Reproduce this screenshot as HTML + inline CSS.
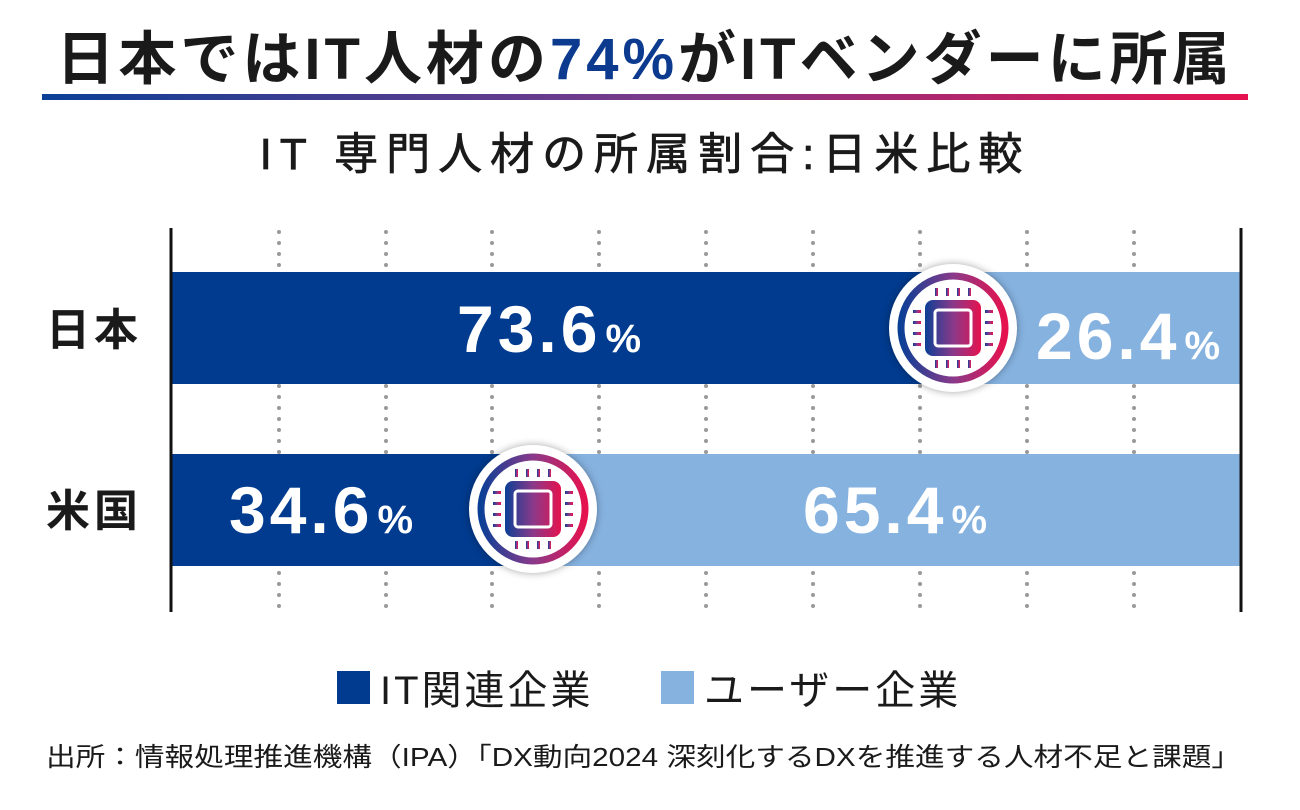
<!DOCTYPE html>
<html><head><meta charset="utf-8"><style>
body{margin:0;width:1300px;height:810px;background:#fff;overflow:hidden;font-family:"Liberation Sans","Noto Sans CJK JP",sans-serif;}
.a{position:absolute;white-space:nowrap}
</style></head><body>
<div class="a" style="left:0;width:1290px;top:25px;text-align:center;font-size:58px;font-weight:bold;color:#1a1a1a;letter-spacing:4px;line-height:70px">日本ではIT人材の<span style="color:#0b3a8e">74%</span>がITベンダーに所属</div>
<div class="a" style="left:42px;top:94px;width:1206px;height:6px;background:linear-gradient(90deg,#0b3f96,#7a3a8a 50%,#e5124f)"></div>
<div class="a" style="left:0;width:1290px;top:128px;text-align:center;font-size:44px;color:#1a1a1a;letter-spacing:8px;line-height:54px;-webkit-text-stroke:0.8px #1a1a1a">IT 専門人材の所属割合:日米比較</div>
<svg class="a" style="left:0;top:0" width="1300" height="810">
<defs><linearGradient id="g" x1="0" x2="1"><stop offset="0" stop-color="#0b3f96"/><stop offset=".5" stop-color="#8a3a8a"/><stop offset="1" stop-color="#e5124f"/></linearGradient>
<g id="ic">
<circle r="64" fill="#fff" style="filter:drop-shadow(0 0 4px rgba(0,0,0,.35))"/>
<circle r="52" fill="none" stroke="url(#g)" stroke-width="7"/>
<rect x="-28" y="-28" width="56" height="56" rx="8" fill="url(#g)"/>
<rect x="-18" y="-18" width="36" height="36" rx="3" fill="none" stroke="#fff" stroke-width="3"/>
<g fill="url(#g)">
<rect x="-18" y="-40" width="3" height="8"/><rect x="-7" y="-40" width="3" height="8"/><rect x="4" y="-40" width="3" height="8"/><rect x="15" y="-40" width="3" height="8"/>
<rect x="-18" y="32" width="3" height="8"/><rect x="-7" y="32" width="3" height="8"/><rect x="4" y="32" width="3" height="8"/><rect x="15" y="32" width="3" height="8"/>
<rect x="-40" y="-18" width="8" height="3"/><rect x="-40" y="-7" width="8" height="3"/><rect x="-40" y="4" width="8" height="3"/><rect x="-40" y="15" width="8" height="3"/>
<rect x="32" y="-18" width="8" height="3"/><rect x="32" y="-7" width="8" height="3"/><rect x="32" y="4" width="8" height="3"/><rect x="32" y="15" width="8" height="3"/>
</g></g></defs>
<g stroke="#999" stroke-width="4" stroke-linecap="round" stroke-dasharray="0 11">
<line x1="279" y1="232" x2="279" y2="610"/><line x1="386" y1="232" x2="386" y2="610"/><line x1="492" y1="232" x2="492" y2="610"/><line x1="599" y1="232" x2="599" y2="610"/><line x1="706" y1="232" x2="706" y2="610"/><line x1="813" y1="232" x2="813" y2="610"/><line x1="920" y1="232" x2="920" y2="610"/><line x1="1027" y1="232" x2="1027" y2="610"/><line x1="1134" y1="232" x2="1134" y2="610"/>
</g>
<rect x="171" y="272" width="787" height="112" fill="#003b8f"/>
<rect x="958" y="272" width="283" height="112" fill="#86b2e0"/>
<rect x="171" y="454" width="370" height="112" fill="#003b8f"/>
<rect x="541" y="454" width="700" height="112" fill="#86b2e0"/>
<line x1="171" y1="228" x2="171" y2="612" stroke="#111" stroke-width="3"/>
<line x1="1241" y1="228" x2="1241" y2="612" stroke="#111" stroke-width="3"/>
<use href="#ic" x="953" y="328"/>
<use href="#ic" x="533" y="509"/>
<g fill="#fff" font-weight="bold" font-family="Liberation Sans,sans-serif" letter-spacing="4">
<text x="457" y="352" font-size="66">73.6<tspan font-size="40" dx="4">%</tspan></text>
<text x="1036" y="359" font-size="66">26.4<tspan font-size="40" dx="4">%</tspan></text>
<text x="229" y="533" font-size="66">34.6<tspan font-size="40" dx="4">%</tspan></text>
<text x="803" y="533" font-size="66">65.4<tspan font-size="40" dx="4">%</tspan></text>
</g>
<g fill="#1a1a1a" font-weight="bold" font-size="44" font-family="Liberation Sans,Noto Sans CJK JP,sans-serif" letter-spacing="4">
<text x="46" y="345">日本</text><text x="46" y="526">米国</text>
</g>
<rect x="337" y="671" width="33" height="33" fill="#003b8f"/>
<rect x="661" y="671" width="33" height="33" fill="#86b2e0"/>
<g fill="#1a1a1a" font-size="40" font-family="Liberation Sans,Noto Sans CJK JP,sans-serif" letter-spacing="3">
<text x="380" y="704">IT関連企業</text><text x="704" y="704">ユーザー企業</text>
</g>
<text x="46" y="766" font-size="26" fill="#1a1a1a" font-family="Liberation Sans,Noto Sans CJK JP,sans-serif" textLength="1195" lengthAdjust="spacingAndGlyphs">出所：情報処理推進機構（IPA）「DX動向2024 深刻化するDXを推進する人材不足と課題」</text>
</svg>
</body></html>
